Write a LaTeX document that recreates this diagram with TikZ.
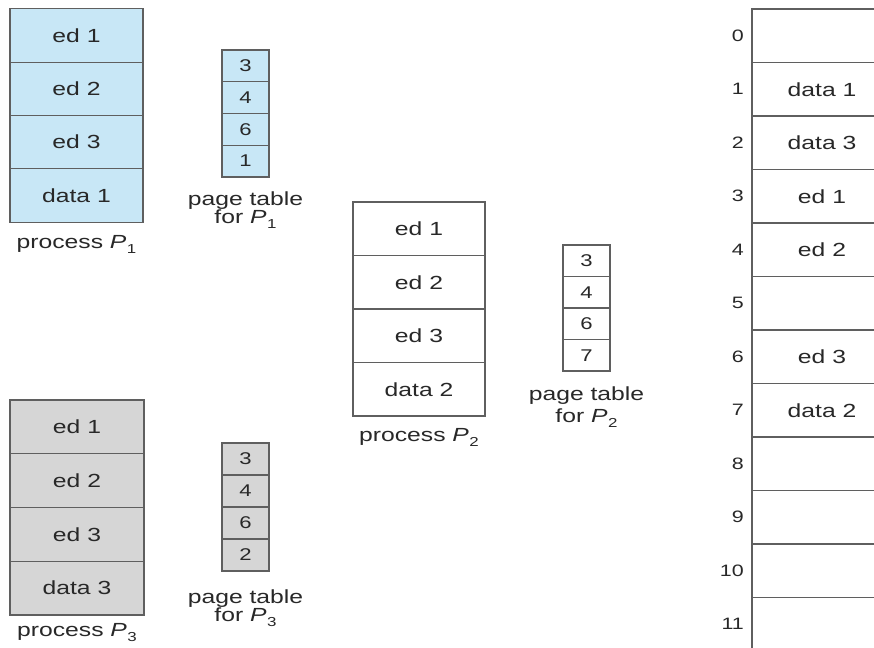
\documentclass[tikz,border=0pt]{standalone}
\usepackage{fontspec}
\setmainfont[FakeStretch=1.3]{Liberation Sans}
\definecolor{pblue}{RGB}{200,231,246}
\definecolor{pgray}{RGB}{214,214,214}
\definecolor{lc}{RGB}{95,95,95}
\definecolor{tc}{RGB}{40,40,40}
\newcommand{\Psub}[1]{\textit{P}\kern0.5pt\raisebox{-0.55ex}{\fontsize{13}{13}\selectfont #1}}
\begin{document}
\begin{tikzpicture}[x=1pt,y=-1pt,
  cell/.style={draw=lc, line width=1.1pt, inner sep=0pt, text=tc, font=\fontsize{19}{19}\selectfont},
  pcell/.style={cell, minimum width=133pt, minimum height=53.4pt},
  tcell/.style={cell, minimum width=47pt, minimum height=31.75pt, font=\fontsize{17}{17}\selectfont},
  mcell/.style={cell, minimum width=140pt, minimum height=53.5pt},
  lab/.style={text=tc, font=\fontsize{19}{19}\selectfont, inner sep=0pt, anchor=base},
  num/.style={text=tc, font=\fontsize{16.5}{16.5}\selectfont, inner sep=0pt, anchor=east}]
\useasboundingbox[fill=white] (0,0) rectangle (874,647);
% process P1
\foreach \t [count=\i] in {ed 1,ed 2,ed 3,data 1}
  \node[pcell, fill=pblue] (pa\i) at (76.5, {9+53.25*(\i-0.5)}) {\t};
\node[lab] (lpa) at (76.5,248) {process \Psub{1}};
% page table P1
\foreach \t [count=\i] in {3,4,6,1}
  \node[tcell, fill=pblue] (ta\i) at (245.5, {50+31.75*(\i-0.5)}) {\t};
\node[lab] (lta1) at (245.5,205) {page table};
\node[lab] (lta2) at (245.5,223) {for \Psub{1}};
% process P2
\foreach \t [count=\i] in {ed 1,ed 2,ed 3,data 2}
  \node[pcell, fill=white, minimum width=132pt, minimum height=53.5pt] (pb\i) at (419, {202+53.5*(\i-0.5)}) {\t};
\node[lab] (lpb) at (419,441) {process \Psub{2}};
% page table P2
\foreach \t [count=\i] in {3,4,6,7}
  \node[tcell, fill=white, minimum height=31.5pt] (tb\i) at (586.5, {245+31.5*(\i-0.5)}) {\t};
\node[lab] (ltb1) at (586.5,400) {page table};
\node[lab] (ltb2) at (586.5,422) {for \Psub{2}};
% process P3
\foreach \t [count=\i] in {ed 1,ed 2,ed 3,data 3}
  \node[pcell, fill=pgray, minimum width=134pt, minimum height=53.75pt] (pc\i) at (77, {400+53.75*(\i-0.5)}) {\t};
\node[lab] (lpc) at (77,636) {process \Psub{3}};
% page table P3
\foreach \t [count=\i] in {3,4,6,2}
  \node[tcell, fill=pgray, minimum height=32pt] (tc\i) at (245.5, {443+32*(\i-0.5)}) {\t};
\node[lab] (ltc1) at (245.5,603) {page table};
\node[lab] (ltc2) at (245.5,621) {for \Psub{3}};
% physical memory
\foreach \t [count=\i from 0] in {,data 1,data 3,ed 1,ed 2,,ed 3,data 2,,,,}
  {\node[mcell, fill=white] (m\i) at (822, {9+53.5*(\i+0.5)}) {\t};
   \node[num] (n\i) at (744, {9+53.5*(\i+0.5)}) {\i};}
\end{tikzpicture}
\end{document}
